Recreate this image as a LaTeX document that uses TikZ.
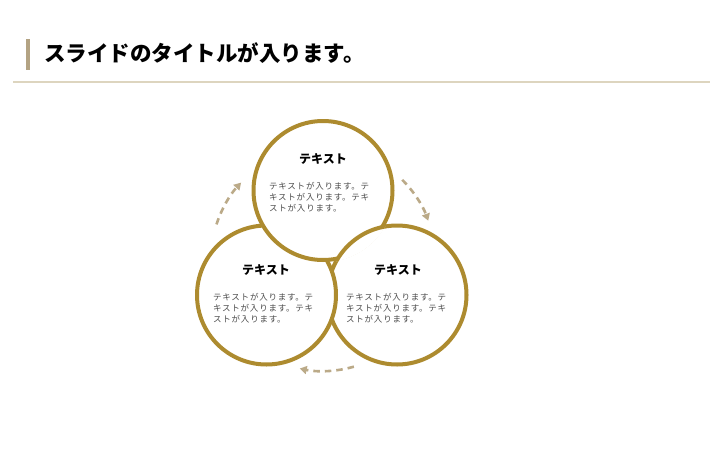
\documentclass[tikz,border=0pt]{standalone}
\usepackage{fontspec}
\newfontfamily\jp{Noto Sans CJK JP}
\newfontfamily\jpsp[LetterSpace=9]{Noto Sans CJK JP}
\usetikzlibrary{arrows.meta}
\definecolor{gold}{HTML}{AD8B2F}
\definecolor{tanc}{HTML}{BBAA88}
\definecolor{barc}{HTML}{B3A383}
\definecolor{rulec}{HTML}{DDD5BF}
\definecolor{bodyc}{HTML}{4A4A4A}
\begin{document}
\begin{tikzpicture}[x=1pt,y=-1pt,
 ring/.style={draw=gold,line width=4pt,fill=white},
 cyc/.style={draw=tanc,line width=2.6pt,dash pattern=on 6.5pt off 5pt,-{Triangle[length=7pt,width=8pt]}},
 head/.style={font=\jp\bfseries\fontsize{12}{14}\selectfont,inner sep=0},
 txt/.style={font=\jpsp\fontsize{8.5}{11}\selectfont,text=bodyc,align=left,anchor=north west,inner sep=0}]
\fill[white] (0,0) rectangle (720,450);
\useasboundingbox (0,0) rectangle (720,450);
\fill[barc] (25.5,39) rectangle (29.5,70);
\node[anchor=west,inner sep=0,font=\jp\bfseries\fontsize{21.5}{25}\selectfont] (title) at (44,53) {スライドのタイトルが入ります。};
\draw[rulec,line width=1.5pt] (13,82) -- (710,82);
\coordinate (ct) at (323,190.5);
\coordinate (cl) at (266.5,295);
\coordinate (cr) at (397,295);
\def\R{69.5}
\path[ring] (cr) circle[radius=\R];
\path[ring] (cl) circle[radius=\R];
\path[ring] (ct) circle[radius=\R];
\begin{scope}
\clip (ct) circle[radius=72];
\path[ring] (cr) circle[radius=\R];
\end{scope}
\coordinate (o) at (323,259);
\draw[cyc] ([shift={(-162:112)}]o) arc[start angle=-162,end angle=-137,radius=112];
\draw[cyc] ([shift={(-45:112)}]o) arc[start angle=-45,end angle=-20,radius=112];
\draw[cyc] ([shift={(74:112)}]o) arc[start angle=74,end angle=102,radius=112];
\node[head] (ht) at (323,159) {テキスト};
\node[txt] (bt) at (269,182.5) {テキストが入ります。テ\\キストが入ります。テキ\\ストが入ります。};
\node[head] (hl) at (266,270) {テキスト};
\node[txt] (bl) at (213,293.5) {テキストが入ります。テ\\キストが入ります。テキ\\ストが入ります。};
\node[head] (hr) at (398,270) {テキスト};
\node[txt] (br) at (346,293.5) {テキストが入ります。テ\\キストが入ります。テキ\\ストが入ります。};
\end{tikzpicture}
\end{document}
